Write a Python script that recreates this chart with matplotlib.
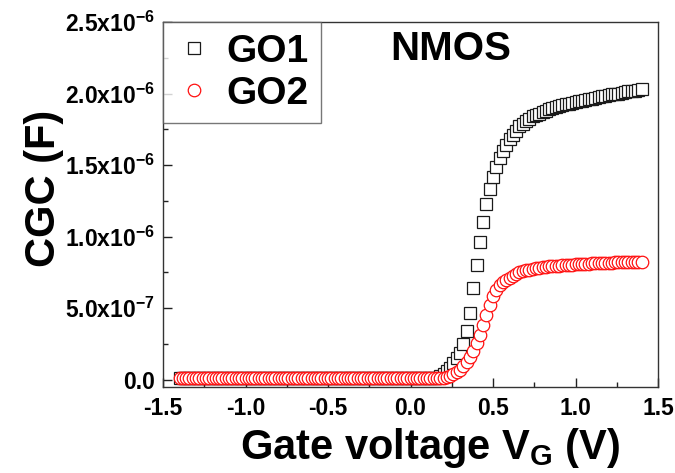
import numpy as np
import matplotlib
matplotlib.use('Agg')
import matplotlib.pyplot as plt
from matplotlib.ticker import MultipleLocator, FixedLocator, FixedFormatter

plt.rcParams['font.family'] = 'Liberation Sans'
plt.rcParams['font.weight'] = 'bold'
plt.rcParams['mathtext.fontset'] = 'custom'
plt.rcParams['mathtext.rm'] = 'Liberation Sans:bold'
plt.rcParams['mathtext.it'] = 'Liberation Sans:bold'
plt.rcParams['mathtext.bf'] = 'Liberation Sans:bold'

# gate voltage sweep, -1.4 V .. 1.4 V in 20 mV steps
vg = np.round(np.arange(-1.4, 1.4001, 0.02), 2)

# CGC in units of 1e-7 F
go1 = [
    0.1, 0.1, 0.1, 0.1, 0.1, 0.1, 0.1, 0.1, 0.1, 0.1, 0.1, 0.1, 0.1,
    0.1, 0.1, 0.1, 0.1, 0.1, 0.1, 0.1, 0.1, 0.1, 0.1, 0.1, 0.1, 0.1,
    0.1, 0.1, 0.1, 0.1, 0.1, 0.1, 0.1, 0.1, 0.1, 0.1, 0.1, 0.1, 0.1,
    0.1, 0.1, 0.1, 0.1, 0.1, 0.1, 0.1, 0.1, 0.1, 0.1, 0.1, 0.1, 0.1,
    0.1, 0.1, 0.1, 0.1, 0.1, 0.1, 0.1, 0.1, 0.1, 0.1, 0.1, 0.1, 0.1,
    0.1, 0.1, 0.1, 0.1, 0.1, 0.1, 0.1, 0.1, 0.1, 0.1, 0.1, 0.1, 0.1,
    0.15, 0.25, 0.4, 0.6, 0.85, 1.15, 1.5, 1.9, 2.5, 3.4, 4.7, 6.4, 8.0,
    9.6, 11.0, 12.3, 13.3, 14.2, 14.9, 15.5, 16.0, 16.4, 16.8, 17.1, 17.4,
    17.7, 17.9, 18.1,
    18.25, 18.4, 18.5, 18.6, 18.7, 18.8, 18.9, 19.0, 19.05, 19.1, 19.2,
    19.25, 19.3, 19.35, 19.4,
    19.45, 19.5, 19.55, 19.6, 19.65, 19.7, 19.75, 19.8, 19.85, 19.9,
    19.95, 20.0, 20.0, 20.05, 20.1, 20.15, 20.2, 20.2, 20.25, 20.3,
]
go2 = [
    0.1, 0.1, 0.1, 0.1, 0.1, 0.1, 0.1, 0.1, 0.1, 0.1, 0.1, 0.1, 0.1,
    0.1, 0.1, 0.1, 0.1, 0.1, 0.1, 0.1, 0.1, 0.1, 0.1, 0.1, 0.1, 0.1,
    0.1, 0.1, 0.1, 0.1, 0.1, 0.1, 0.1, 0.1, 0.1, 0.1, 0.1, 0.1, 0.1,
    0.1, 0.1, 0.1, 0.1, 0.1, 0.1, 0.1, 0.1, 0.1, 0.1, 0.1, 0.1, 0.1,
    0.1, 0.1, 0.1, 0.1, 0.1, 0.1, 0.1, 0.1, 0.1, 0.1, 0.1, 0.1, 0.1,
    0.1, 0.1, 0.1, 0.1, 0.1, 0.1, 0.1, 0.1, 0.1, 0.1, 0.1, 0.1, 0.1,
    0.1,
    0.12, 0.15, 0.2, 0.28, 0.38, 0.52, 0.7, 0.95, 1.25, 1.6, 2.05, 2.55,
    3.15, 3.8, 4.5, 5.2, 5.85, 6.3, 6.6, 6.85, 7.0, 7.15, 7.28, 7.4, 7.5,
    7.58, 7.65,
    7.7, 7.75, 7.79, 7.83, 7.86, 7.89, 7.92, 7.94, 7.96, 7.98, 8.0, 8.02,
    8.04, 8.05, 8.07, 8.08, 8.10, 8.11, 8.12, 8.13, 8.14, 8.15, 8.16,
    8.17, 8.18, 8.19, 8.2, 8.2, 8.21, 8.22, 8.23, 8.24, 8.24, 8.25, 8.26,
]
assert len(go1) == len(vg) and len(go2) == len(vg)

xticks = [-1.5, -1.0, -0.5, 0.0, 0.5, 1.0, 1.5]
yticks = [0.0, 0.5e-6, 1.0e-6, 1.5e-6, 2.0e-6, 2.5e-6]
ytick_labels = ['0.0', r'$5.0x10^{-7}$', r'$1.0x10^{-6}$', r'$1.5x10^{-6}$',
                r'$2.0x10^{-6}$', r'$2.5x10^{-6}$']

fig = plt.figure(figsize=(6.75, 4.73), dpi=100)
ax = fig.add_axes([163 / 675, 1 - 387 / 473, 495 / 675, 365 / 473])

ax.plot(vg, np.array(go1) * 1e-7, 's', ms=9.0, mfc='white', mec='#1a1a1a',
        mew=0.9, label='GO1')
ax.plot(vg, np.array(go2) * 1e-7, 'o', ms=9.0, mfc='white', mec='#ff1010',
        mew=0.9, label='GO2')

ax.set_xlim(-1.5, 1.5)
ax.set_ylim(-0.05e-6, 2.5e-6)
ax.xaxis.set_major_locator(FixedLocator(xticks))
ax.xaxis.set_minor_locator(MultipleLocator(0.25))
ax.set_xticklabels(['%.1f' % t for t in xticks])
ax.yaxis.set_major_locator(FixedLocator(yticks))
ax.yaxis.set_major_formatter(FixedFormatter(ytick_labels))
ax.yaxis.set_minor_locator(MultipleLocator(0.25e-6))

ax.tick_params(which='both', direction='in', top=False, right=False,
               labelsize=16.5, width=1, color='#222222')
ax.tick_params(which='major', length=6.5)
ax.tick_params(which='minor', length=3.5)
ax.tick_params(axis='x', which='major', pad=7)
ax.tick_params(axis='y', which='major', pad=6)
for s in ax.spines.values():
    s.set_linewidth(1.0)
    s.set_color('#333333')

ax.set_xlabel(r'Gate voltage V$_G$ (V)', fontsize=30, fontweight='bold')
ax.xaxis.set_label_coords(0.539, -0.108)
ax.set_ylabel('CGC (F)', fontsize=30, fontweight='bold')
ax.yaxis.set_label_coords(-0.200, 0.545)

ax.text(0.582, 0.926, 'NMOS', transform=ax.transAxes, fontsize=29,
        fontweight='bold', ha='center', va='center')

leg = ax.legend(loc='upper left', borderaxespad=0, fontsize=28, frameon=True,
                fancybox=False, handlelength=1.0, handletextpad=0.34,
                labelspacing=0.15, borderpad=0.3)
leg.get_frame().set_edgecolor('#555555')
leg.get_frame().set_linewidth(1.0)

fig.savefig('out.png', dpi=100)
